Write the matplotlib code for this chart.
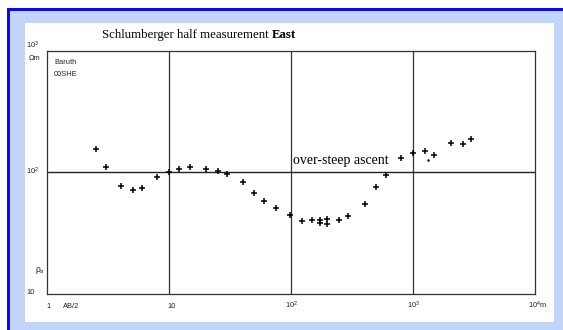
import matplotlib
matplotlib.use("Agg")
import matplotlib.pyplot as plt
from matplotlib.patches import Rectangle

plt.rcParams['mathtext.fontset'] = 'custom'
plt.rcParams['mathtext.rm'] = 'Liberation Sans'
plt.rcParams['mathtext.it'] = 'Liberation Sans:italic'

# Data: AB/2 (m) and apparent resistivity (Ohm m)
ab2 = [2.52, 3.04, 4.04, 5.10, 6.04, 8.02, 10.06, 12.0, 14.9, 20.0, 25.2, 30.1,
       40.2, 49.7, 60.1, 75.3, 98.7, 124, 149.5, 173, 173, 197, 197, 249, 295,
       402, 497, 597, 797, 1006, 1262, 1496, 2037, 2553, 2987]
rho = [154, 109.8, 76.7, 71.9, 74.2, 90.9, 100.5, 105.7, 110.4, 106.3, 103, 96.2,
       82.7, 67.9, 58.4, 51.2, 44.8, 40.0, 40.3, 40.3, 38.1, 41.3, 37.4, 40.5, 43.5,
       54.6, 76.1, 94.9, 131.7, 144.7, 149.5, 138.6, 173, 169.7, 188.6]
extra_ab2 = [1334]
extra_rho = [126]

title_main = "Schlumberger half measurement "
title_bold = "East"
annotation = "over-steep ascent"
station = ["Baruth", "00SHE"]

W, H = 563, 330
fig = plt.figure(figsize=(W / 100, H / 100), dpi=100, facecolor='white')

def fx(px):
    return px / W

def fy(py):
    return 1 - py / H

def rect(x0, y0, x1, y1, color):
    fig.patches.append(Rectangle((fx(x0), fy(y1)), fx(x1) - fx(x0), fy(y0) - fy(y1),
                                 transform=fig.transFigure, facecolor=color,
                                 edgecolor='none', zorder=-10))

rect(7.3, 8.3, W, H, '#0a0aee')
rect(10, 11, W, H, '#c2d5f8')
rect(25, 23, 554, 322, 'white')

left, right, top, bottom = 47, 535, 50.5, 294
ax = fig.add_axes([fx(left), fy(bottom), fx(right) - fx(left), fy(top) - fy(bottom)])
ax.set_facecolor('white')
ax.set_xscale('log')
ax.set_yscale('log')
ax.set_xlim(1, 1e4)
ax.set_ylim(10, 1000)
for s in ax.spines.values():
    s.set_color('#333333')
    s.set_linewidth(0.9)
ax.set_xticks([])
ax.set_yticks([])
ax.minorticks_off()
for xv in [10, 100, 1000]:
    ax.axvline(xv, color='#333333', lw=0.9)
ax.axhline(100, color='#222222', lw=1.0)

ax.plot(ab2, rho, linestyle='none', marker='+', color='black', markersize=4.5, mew=1.1)
ax.plot(extra_ab2, extra_rho, linestyle='none', marker='.', color='black', markersize=1.5)

serif = ['Liberation Serif', 'DejaVu Serif']
sans = ['Liberation Sans', 'DejaVu Sans']

tfs = 9.3
t1 = fig.text(fx(102), fy(38), title_main, family=serif, fontsize=tfs, ha='left', va='baseline')
fig.canvas.draw()
bb = t1.get_window_extent()
fig.text(bb.x1 / W, fy(38), title_bold, family=serif, fontsize=tfs, weight='bold',
         ha='left', va='baseline')

fig.text(fx(293), fy(164), annotation, family=serif, fontsize=10, ha='left', va='baseline')

sfs = 5.4
c = '#222222'
fig.text(fx(26.5), fy(45.5), "10$^{3}$", family=sans, fontsize=sfs, ha='left', va='center', color=c)
fig.text(fx(28.5), fy(58), "Ωm", family=sans, fontsize=sfs, ha='left', va='center', color=c)
fig.text(fx(26.5), fy(171), "10$^{2}$", family=sans, fontsize=sfs, ha='left', va='center', color=c)
fig.text(fx(35), fy(270), "ρ$_{a}$", family=sans, fontsize=sfs + 0.8, ha='left', va='center', color=c)
fig.text(fx(26.5), fy(293), "10", family=sans, fontsize=sfs, ha='left', va='center', color=c)
fig.text(fx(54), fy(62.5), station[0], family=sans, fontsize=sfs, ha='left', va='center', color=c)
fig.text(fx(54), fy(75), station[1], family=sans, fontsize=sfs, ha='left', va='center', color=c)

fig.text(fx(48.3), fy(307), "1", family=sans, fontsize=sfs, ha='center', va='center', color=c)
fig.text(fx(63), fy(307), "AB/2", family=sans, fontsize=sfs, ha='left', va='center', color=c)
fig.text(fx(172), fy(307), "10", family=sans, fontsize=sfs, ha='center', va='center', color=c)
fig.text(fx(285), fy(305), "10$^{2}$", family=sans, fontsize=sfs, ha='left', va='center', color=c)
fig.text(fx(407), fy(305), "10$^{3}$", family=sans, fontsize=sfs, ha='left', va='center', color=c)
fig.text(fx(528), fy(305), "10$^{4}$m", family=sans, fontsize=sfs, ha='left', va='center', color=c)

fig.savefig("out.png", dpi=100, facecolor=fig.get_facecolor())
